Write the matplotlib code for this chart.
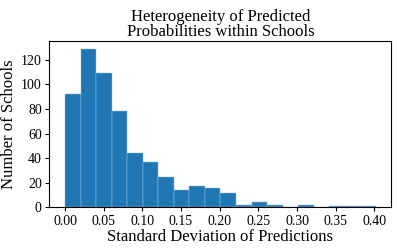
import numpy as np
import matplotlib.pyplot as plt

plt.rcParams['font.family'] = ['Liberation Serif', 'DejaVu Serif']

# histogram counts, bins of width ~0.0201 starting at 0
counts = [92, 129, 109, 78, 44, 37, 25, 14, 17, 16, 12,
          2, 4, 2, 0, 2, 0, 1, 1, 1]
bin_width = 0.0201
xticks = [0.00, 0.05, 0.10, 0.15, 0.20, 0.25, 0.30, 0.35, 0.40]
yticks = [0, 20, 40, 60, 80, 100, 120]

edges = np.arange(len(counts) + 1) * bin_width

fig = plt.figure(figsize=(3.99, 2.49), dpi=100)
ax = fig.add_axes([0.124, 0.167, 0.857, 0.670])
ax.hist(edges[:-1], bins=edges, weights=counts, color='#1f77b4',
        edgecolor='#8fbbe0', linewidth=0.35)

ax.set_xticks(xticks)
ax.set_xticklabels([f'{t:.2f}' for t in xticks])
ax.set_yticks(yticks)
ax.tick_params(labelsize=10, length=3, width=0.8, pad=2.5)
ax.set_xlabel('Standard Deviation of Predictions', fontsize=12, labelpad=1)
ax.set_ylabel('Number of Schools', fontsize=12, labelpad=3)
ax.set_title('Heterogeneity of Predicted\nProbabilities within Schools',
             fontsize=12, linespacing=0.95, pad=3)

fig.savefig('out.png', dpi=100)
